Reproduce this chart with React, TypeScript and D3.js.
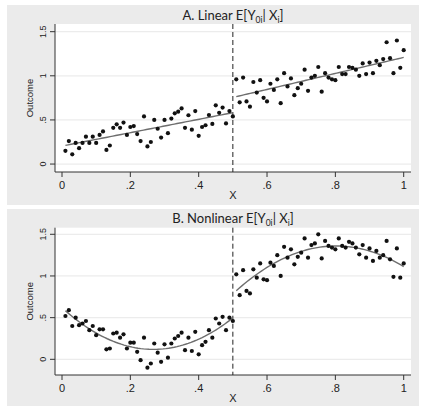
import React from "react";
import * as d3 from "d3";

// ---------- DATA ----------
const xTicks = [0, 0.2, 0.4, 0.6, 0.8, 1];
const xTickLabels = ["0", ".2", ".4", ".6", ".8", "1"];
const yTicks = [0, 0.5, 1, 1.5];
const yTickLabels = ["0", ".5", "1", "1.5"];
const cutoff = 0.5;

// x positions shared by both panels (0.01 .. 1.00)
const xValues: number[] = d3.range(1, 101).map((i) => i / 100);

// Panel A: Linear E[Y0i | Xi]
const linearY: number[] = [
  0.15, 0.26, 0.11, 0.24, 0.18, 0.24, 0.31, 0.24, 0.31, 0.24,
  0.33, 0.37, 0.16, 0.21, 0.41, 0.45, 0.41, 0.47, 0.33, 0.42,
  0.43, 0.34, 0.26, 0.54, 0.2, 0.25, 0.5, 0.4, 0.3, 0.5,
  0.35, 0.515, 0.575, 0.594, 0.63, 0.41, 0.553, 0.39, 0.6, 0.32,
  0.42, 0.44, 0.556, 0.455, 0.665, 0.58, 0.64, 0.46, 0.6, 0.54,
  0.96, 0.7, 0.98, 0.71, 0.65, 0.93, 0.81, 0.95, 0.75, 0.71,
  0.91, 0.84, 0.96, 0.69, 1.03, 0.88, 0.97, 0.78, 0.86, 0.91,
  1.07, 0.83, 0.98, 1.0, 1.1, 0.82, 1.03, 0.98, 0.96, 0.95,
  1.1, 1.02, 1.02, 1.1, 1.09, 1.07, 1.0, 1.14, 1.02, 1.15,
  1.03, 1.17, 1.12, 1.19, 1.38, 1.2, 1.03, 1.4, 1.09, 1.29,
];

// Panel B: Nonlinear E[Y0i | Xi]
const nonlinearY: number[] = [
  0.52, 0.59, 0.4, 0.5, 0.41, 0.43, 0.46, 0.35, 0.4, 0.29,
  0.36, 0.36, 0.12, 0.13, 0.31, 0.32, 0.26, 0.3, 0.13, 0.2,
  0.2, 0.09, -0.01, 0.26, -0.1, -0.05, 0.19, 0.08, -0.03, 0.18,
  0.02, 0.19, 0.25, 0.28, 0.32, 0.11, 0.26, 0.1, 0.33, 0.06,
  0.17, 0.21, 0.35, 0.26, 0.49, 0.43, 0.51, 0.35, 0.5, 0.46,
  1.02, 0.77, 1.07, 0.82, 0.79, 1.08, 0.98, 1.15, 0.96, 0.95,
  1.16, 1.12, 1.25, 1.0, 1.35, 1.22, 1.32, 1.14, 1.23, 1.28,
  1.45, 1.22, 1.37, 1.39, 1.5, 1.21, 1.42, 1.36, 1.34, 1.32,
  1.45, 1.36, 1.34, 1.41, 1.39, 1.34, 1.26, 1.37, 1.22, 1.33,
  1.18, 1.3, 1.22, 1.25, 1.42, 1.2, 0.99, 1.33, 0.98, 1.15,
];

// ---------- HELPERS ----------
function polyfit(xs: number[], ys: number[], deg: number): number[] {
  const n = deg + 1;
  const A: number[][] = Array.from({ length: n }, () => new Array(n + 1).fill(0));
  for (let k = 0; k < xs.length; k++) {
    for (let i = 0; i < n; i++) {
      for (let j = 0; j < n; j++) A[i][j] += Math.pow(xs[k], i + j);
      A[i][n] += ys[k] * Math.pow(xs[k], i);
    }
  }
  for (let c = 0; c < n; c++) {
    let p = c;
    for (let r = c + 1; r < n; r++) if (Math.abs(A[r][c]) > Math.abs(A[p][c])) p = r;
    [A[c], A[p]] = [A[p], A[c]];
    for (let r = 0; r < n; r++) {
      if (r === c) continue;
      const f = A[r][c] / A[c][c];
      for (let j = c; j <= n; j++) A[r][j] -= f * A[c][j];
    }
  }
  return A.map((row, i) => row[n] / A[i][i]);
}
const evalPoly = (coef: number[], x: number) =>
  coef.reduce((s, c, i) => s + c * Math.pow(x, i), 0);

type PanelProps = {
  top: number; // top of grey region
  bgHeight: number;
  titleY: number;
  plotTop: number;
  plotBottom: number;
  yDomain: [number, number];
  ys: number[];
  deg: number;
  letter: string;
  name: string;
};

const plotLeft = 55;
const plotRight = 411;

function Panel(p: PanelProps) {
  const x = d3.scaleLinear().domain([0, 1]).range([62, 403.7]);
  const y = d3.scaleLinear().domain(p.yDomain).range([p.plotBottom, p.plotTop]);

  const pts = xValues.map((xv, i) => ({ x: xv, y: p.ys[i] }));
  const left = pts.filter((d) => d.x <= cutoff);
  const right = pts.filter((d) => d.x > cutoff);

  const fitPath = (seg: { x: number; y: number }[]) => {
    const coef = polyfit(seg.map((d) => d.x), seg.map((d) => d.y), p.deg);
    const x0 = d3.min(seg, (d) => d.x)!;
    const x1 = d3.max(seg, (d) => d.x)!;
    const samples = d3.range(0, 61).map((i) => x0 + ((x1 - x0) * i) / 60);
    return d3
      .line<number>()
      .x((v) => x(v))
      .y((v) => y(evalPoly(coef, v)))(samples)!;
  };

  const cx = (plotLeft + plotRight) / 2;
  const midY = (p.plotTop + p.plotBottom) / 2;
  const sans = "'Liberation Sans', Arial, sans-serif";

  return (
    <g>
      <rect x={7} y={p.top} width={412} height={p.bgHeight} fill="#ebebeb" />
      <rect
        x={plotLeft}
        y={p.plotTop}
        width={plotRight - plotLeft}
        height={p.plotBottom - p.plotTop}
        fill="#ffffff"
      />
      {yTicks.map((t) => (
        <line
          key={"g" + t}
          x1={plotLeft}
          x2={plotRight}
          y1={y(t)}
          y2={y(t)}
          stroke="#ececec"
          strokeWidth={1.2}
        />
      ))}
      {/* title */}
      <text
        x={cx}
        y={p.titleY}
        textAnchor="middle"
        fontFamily="Lato, 'Open Sans', sans-serif"
        fontSize={13}
        fill="#222"
      >
        {p.letter + ". " + p.name + " E[Y"}
        <tspan fontSize={8.5} dy={3}>0i</tspan>
        <tspan dy={-3}>{"| X"}</tspan>
        <tspan fontSize={8.5} dy={3}>i</tspan>
        <tspan dy={-3}>]</tspan>
      </text>
      {/* axes */}
      <line x1={plotLeft} x2={plotLeft} y1={p.plotTop} y2={p.plotBottom} stroke="#333" strokeWidth={1} />
      <line x1={plotLeft} x2={plotRight} y1={p.plotBottom} y2={p.plotBottom} stroke="#333" strokeWidth={1} />
      {yTicks.map((t, i) => (
        <g key={"y" + t}>
          <line x1={plotLeft - 5} x2={plotLeft} y1={y(t)} y2={y(t)} stroke="#333" />
          <text
            transform={`translate(${plotLeft - 9},${y(t)}) rotate(-90)`}
            textAnchor="middle"
            fontFamily={sans}
            fontSize={9}
            fill="#222"
          >
            {yTickLabels[i]}
          </text>
        </g>
      ))}
      <text
        transform={`translate(${33},${midY}) rotate(-90)`}
        textAnchor="middle"
        fontFamily={sans}
        fontSize={9.5}
        fill="#222"
      >
        Outcome
      </text>
      {xTicks.map((t, i) => (
        <g key={"x" + t}>
          <line x1={x(t)} x2={x(t)} y1={p.plotBottom} y2={p.plotBottom + 5} stroke="#333" />
          <text
            x={x(t)}
            y={p.plotBottom + 17}
            textAnchor="middle"
            fontFamily={sans}
            fontSize={11}
            fill="#222"
          >
            {xTickLabels[i]}
          </text>
        </g>
      ))}
      <text
        x={x(cutoff)}
        y={p.plotBottom + 27}
        textAnchor="middle"
        fontFamily={sans}
        fontSize={11}
        fill="#222"
      >
        X
      </text>
      {/* cutoff */}
      <line
        x1={x(cutoff)}
        x2={x(cutoff)}
        y1={p.plotTop}
        y2={p.plotBottom}
        stroke="#222"
        strokeWidth={1}
        strokeDasharray="5,3"
      />
      {/* fits */}
      <path d={fitPath(left)} fill="none" stroke="#6e6e6e" strokeWidth={1.4} />
      <path d={fitPath(right)} fill="none" stroke="#6e6e6e" strokeWidth={1.4} />
      {/* points */}
      {pts.map((d, i) => (
        <circle key={i} cx={x(d.x)} cy={y(d.y)} r={2.1} fill="#111" />
      ))}
    </g>
  );
}

export default function App() {
  return (
    <svg
      width={424}
      height={410}
      style={{ position: "absolute", left: 0, top: 0, display: "block" }}
    >
      <rect x={0} y={0} width={424} height={410} fill="#ffffff" />
      <Panel
        top={5}
        bgHeight={200}
        titleY={20}
        plotTop={24}
        plotBottom={172}
        yDomain={[-0.09, 1.587]}
        ys={linearY}
        deg={1}
        letter="A"
        name="Linear"
      />
      <Panel
        top={209}
        bgHeight={197}
        titleY={223}
        plotTop={227.7}
        plotBottom={375}
        yDomain={[-0.188, 1.579]}
        ys={nonlinearY}
        deg={2}
        letter="B"
        name="Nonlinear"
      />
    </svg>
  );
}
